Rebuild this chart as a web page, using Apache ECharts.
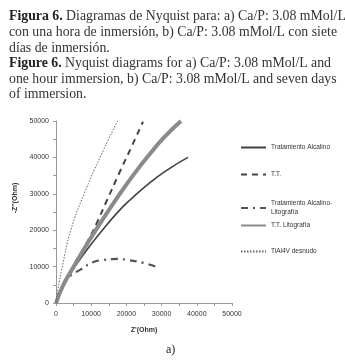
<!DOCTYPE html>
<html>
<head>
<meta charset="utf-8">
<script src="https://cdn.jsdelivr.net/npm/echarts@6/dist/echarts.min.js"></script>
<style>
  html, body { margin: 0; padding: 0; background: #fff; }
  #main { width: 345px; height: 361px; }
</style>
</head>
<body>
<div id="main"></div>
<script>
var chart = echarts.init(document.getElementById('main'));

// Z' (Ohm), -Z'' (Ohm) pairs
var alcalino = [[0, 0], [2000, 4500], [4000, 8000], [8000, 13600], [12500, 19200], [17300, 24700], [21000, 28300], [26700, 33100], [32000, 36800], [37500, 40000]];
var tt = [[0, 0], [2000, 4800], [5000, 10300], [9000, 17000], [11500, 21800], [14000, 27200], [18200, 36200], [21500, 43000], [24700, 49800]];
var alcalinoLito = [[0, 0], [1000, 2800], [2500, 5800], [4500, 7800], [6800, 9100], [10500, 11200], [13300, 11800], [17600, 12100], [20400, 11800], [24500, 11100], [28700, 9900]];
var ttLito = [[0, 0], [2000, 4800], [4000, 8300], [9000, 16500], [12500, 21800], [17300, 28800], [22000, 35200], [26700, 41000], [30500, 45300], [35500, 50000]];
var desnudo = [[0, 0], [600, 4000], [1800, 10000], [4200, 20000], [8000, 30000], [12500, 40000], [17500, 50000]];

var names = ['Tratamiento Alcalino', 'T.T.', 'Tratamiento Alcalino-\nLitografía', 'T.T. Litografía', 'TiAl4V desnudo'];
var legendRows = [142, 169, 198, 220, 246];

var captionText = [
    '{b|Figura 6.} Diagramas de Nyquist para: a) Ca/P: 3.08 mMol/L',
    'con una hora de inmersión, b) Ca/P: 3.08 mMol/L con siete',
    'días de inmersión.',
    '{b|Figure 6.} Nyquist diagrams for a) Ca/P: 3.08 mMol/L and',
    'one hour immersion, b) Ca/P: 3.08 mMol/L and seven days',
    'of immersion.'
].join('\n');

var axisColor = '#999';
var labelFont = 'Liberation Sans';

var legends = names.map(function (n, i) {
    return {
        data: [n],
        left: 235,
        top: legendRows[i] - 4,
        itemWidth: 25,
        itemHeight: 8,
        itemStyle: { opacity: 0 },
        textStyle: { fontSize: 6.5, fontFamily: labelFont, color: '#333', lineHeight: 9 }
    };
});

function plain(v) { return String(v); }

var option = {
    animation: false,
    title: {
        text: captionText,
        left: 4,
        top: 4,
        textStyle: {
            fontFamily: 'Liberation Serif',
            fontSize: 13.8,
            fontWeight: 'normal',
            color: '#333',
            lineHeight: 15.6,
            rich: {
                b: { fontFamily: 'Liberation Serif', fontSize: 13.8, fontWeight: 'bold', color: '#222', lineHeight: 15.6 }
            }
        }
    },
    legend: legends,
    grid: {
        left: 56,
        right: 113,
        top: 121,
        bottom: 58
    },
    xAxis: {
        type: 'value',
        min: 0,
        max: 50000,
        interval: 10000,
        name: "Z'(Ohm)",
        nameLocation: 'middle',
        nameGap: 24,
        nameTextStyle: { fontSize: 7, fontFamily: labelFont, color: '#333', fontWeight: 'bold' },
        axisLine: { lineStyle: { color: axisColor } },
        axisTick: { length: 3, lineStyle: { color: axisColor } },
        minorTick: { show: true, splitNumber: 2, length: 3, lineStyle: { color: axisColor } },
        axisLabel: { fontSize: 7, fontFamily: labelFont, color: '#333', margin: 8, formatter: plain },
        splitLine: { show: false }
    },
    yAxis: {
        type: 'value',
        min: 0,
        max: 50000,
        interval: 10000,
        name: "-Z''(Ohm)",
        nameLocation: 'middle',
        nameGap: 29,
        nameTextStyle: { fontSize: 7, fontFamily: labelFont, color: '#333', fontWeight: 'bold', padding: [0, 0, 0, 28] },
        axisLine: { show: true, lineStyle: { color: axisColor } },
        axisTick: { show: true, length: 3, lineStyle: { color: axisColor } },
        minorTick: { show: true, splitNumber: 2, length: 3, lineStyle: { color: axisColor } },
        axisLabel: { fontSize: 7, fontFamily: labelFont, color: '#333', margin: 7, formatter: plain },
        splitLine: { show: false }
    },
    graphic: [{
        type: 'text',
        left: 166,
        top: 344,
        style: { text: 'a)', font: '12px "Liberation Serif"', fill: '#222' }
    }],
    series: [
        {
            name: names[0], type: 'line', smooth: true, showSymbol: false, symbol: 'none',
            data: alcalino, lineStyle: { color: '#404040', width: 1.6 }, itemStyle: { color: '#404040' }
        },
        {
            name: names[1], type: 'line', smooth: true, showSymbol: false, symbol: 'none',
            data: tt, lineStyle: { color: '#444', width: 2, type: [6, 5] }, itemStyle: { color: '#444' }
        },
        {
            name: names[2], type: 'line', smooth: true, showSymbol: false, symbol: 'none',
            data: alcalinoLito, lineStyle: { color: '#555', width: 2.2, type: [7, 5, 2, 5] }, itemStyle: { color: '#555' }
        },
        {
            name: names[3], type: 'line', smooth: true, showSymbol: false, symbol: 'none',
            data: ttLito, lineStyle: { color: '#8a8a8a', width: 4 }, itemStyle: { color: '#8a8a8a' }
        },
        {
            name: names[4], type: 'line', smooth: true, showSymbol: false, symbol: 'none',
            data: desnudo, lineStyle: { color: '#666', width: 1, type: [1.5, 1.5] }, itemStyle: { color: '#666' }
        }
    ]
};

chart.setOption(option);
</script>
</body>
</html>
